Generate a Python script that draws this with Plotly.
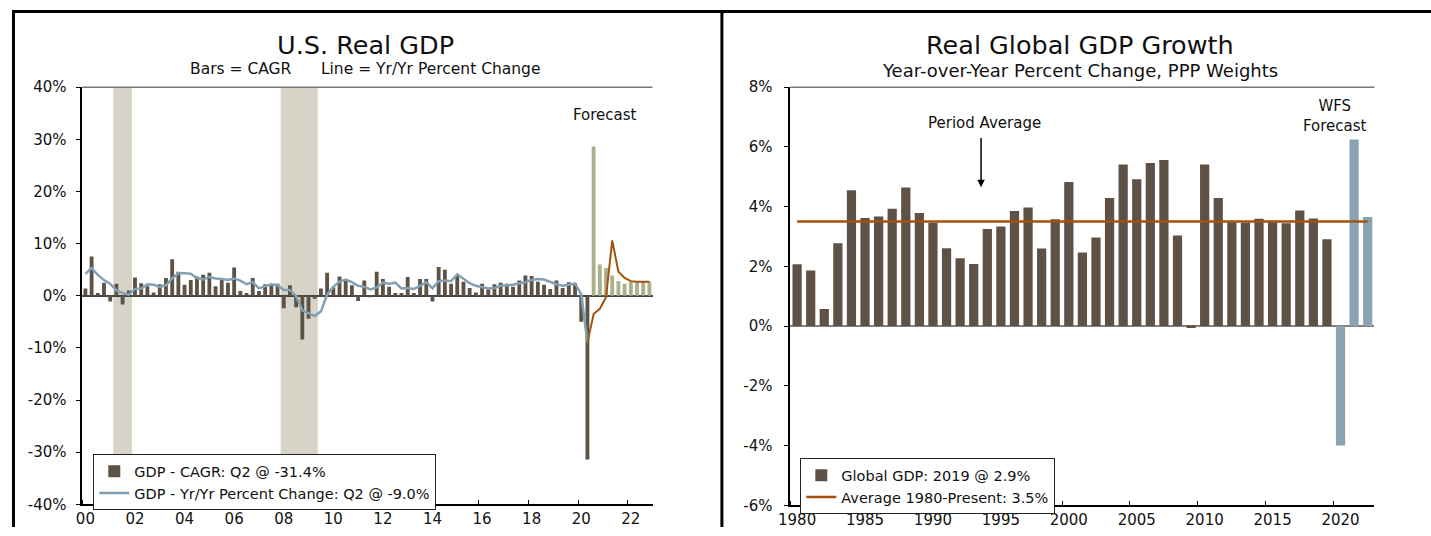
import plotly.graph_objects as go

# ---------------- Data: U.S. Real GDP (quarterly, 2000Q1 - 2022Q4) ----------------
start_year = 2000
cagr_hist = [1.4, 7.5, 0.5, 2.5,
             -1.1, 2.3, -1.7, 1.0,
             3.5, 2.4, 1.8, 0.6,
             2.2, 3.4, 7.0, 4.6,
             2.1, 3.0, 3.7, 4.0,
             4.4, 1.8, 3.4, 2.5,
             5.4, 0.9, 0.5, 3.4,
             0.9, 2.2, 2.2, 2.3,
             -2.4, 2.0, -2.2, -8.4,
             -4.4, -0.6, 1.4, 4.4,
             1.6, 3.7, 3.2, 2.0,
             -1.0, 2.9, -0.1, 4.6,
             3.2, 1.7, 0.5, 0.5,
             3.6, 0.5, 3.2, 3.2,
             -1.1, 5.5, 5.0, 2.3,
             3.8, 2.7, 1.5, 0.6,
             2.3, 1.2, 2.2, 2.5,
             2.3, 1.7, 2.9, 3.9,
             3.8, 2.7, 2.1, 1.3,
             2.9, 1.5, 2.6, 2.4,
             -5.0, -31.4]
cagr_fcst = [28.6, 6.0, 5.3, 3.9, 2.8, 2.3, 2.7, 2.7, 2.7, 2.7]

yoy_hist = [4.2, 5.3, 4.0, 3.0,
            2.3, 1.0, 0.5, 0.2,
            1.3, 1.4, 2.2, 2.1,
            1.7, 2.0, 3.3, 4.3,
            4.3, 4.2, 3.4, 3.1,
            3.6, 3.3, 3.2, 3.0,
            3.3, 2.9, 2.2, 2.6,
            1.4, 1.8, 2.2, 2.0,
            1.1, 1.1, -0.1, -2.8,
            -3.3, -3.9, -3.0, 0.2,
            1.7, 2.7, 3.1, 2.6,
            1.9, 1.7, 1.2, 1.6,
            2.5, 2.3, 2.5, 1.4,
            1.5, 1.3, 1.9, 2.6,
            1.4, 2.8, 2.9, 2.8,
            4.1, 3.3, 2.4, 1.9,
            1.6, 1.4, 1.5, 1.9,
            2.0, 2.1, 2.4, 2.6,
            3.0, 3.2, 3.1, 2.6,
            2.2, 1.9, 2.1, 2.3,
            0.3, -9.0]
yoy_fcst = [-9.0, -3.5, -2.5, -0.3, 10.6, 4.6, 3.4, 2.8, 2.7, 2.7, 2.7]

recessions = [(2001.25, 2002.0), (2008.0, 2009.5)]
us_label_years = list(range(2000, 2023, 2))
us_tick_labels = ["00", "02", "04", "06", "08", "10", "12", "14", "16", "18", "20", "22"]
us_y_ticks = [-40, -30, -20, -10, 0, 10, 20, 30, 40]

# ---------------- Data: Real Global GDP growth (annual) ----------------
global_years_hist = list(range(1980, 2020))
global_hist = [2.07, 1.86, 0.57, 2.77, 4.55, 3.62, 3.67, 3.93, 4.64, 3.79,
               3.46, 2.61, 2.27, 2.08, 3.25, 3.33, 3.85, 3.97, 2.60, 3.58,
               4.82, 2.46, 2.97, 4.29, 5.41, 4.92, 5.46, 5.56, 3.03, -0.06,
               5.41, 4.29, 3.48, 3.46, 3.59, 3.48, 3.44, 3.87, 3.60, 2.91]
global_years_fcst = [2020, 2021, 2022]
global_fcst = [-4.0, 6.25, 3.65]
period_average = 3.5
global_label_years = list(range(1980, 2021, 5))
global_y_ticks = [-6, -4, -2, 0, 2, 4, 6, 8]

# ---------------- Styles ----------------
BROWN = "#5E5247"
OLIVE = "#A9B08A"
LBLUE = "#82A0B4"
ORANGE = "#A3520F"
RECESS = "#D7D3C7"
FBLUE = "#8AA3B3"
FONT = "DejaVu Sans"

W, H = 1431, 536
# mapping from target-picture pixels to figure pixels (calibrated from the rendered output)
SX, BX = 0.993, 11.6
SY, BY = 0.966, 7.9

def fx(q):
    return (q - BX) / SX

def fy(q):
    return (q - BY) / SY

def px_x(q):
    return fx(q) / W

def px_y(q):
    return (H - fy(q)) / H

def pct_labels(vals):
    return [f"{v}%" for v in vals]

# x positions for quarters
n_hist = len(cagr_hist)
q_hist_x = [start_year + i / 4 + 0.125 for i in range(n_hist)]
q_fcst_x = [start_year + (n_hist + i) / 4 + 0.125 for i in range(len(cagr_fcst))]
yoy_fcst_x = [start_year + (n_hist - 1 + i) / 4 + 0.125 for i in range(len(yoy_fcst))]

fig = go.Figure()

# Left chart traces
fig.add_trace(go.Bar(x=q_hist_x, y=cagr_hist, marker_color=BROWN, marker_line_width=0,
                     width=0.155, name="GDP - CAGR: Q2 @ -31.4%", legend="legend",
                     xaxis="x", yaxis="y"))
fig.add_trace(go.Bar(x=q_fcst_x, y=cagr_fcst, marker_color=OLIVE, marker_line_width=0,
                     width=0.155, showlegend=False, xaxis="x", yaxis="y"))
fig.add_trace(go.Scatter(x=q_hist_x, y=yoy_hist, mode="lines",
                         line=dict(color=LBLUE, width=2.5),
                         name="GDP - Yr/Yr Percent Change: Q2 @ -9.0%", legend="legend",
                         xaxis="x", yaxis="y"))
fig.add_trace(go.Scatter(x=yoy_fcst_x, y=yoy_fcst, mode="lines",
                         line=dict(color=ORANGE, width=2),
                         showlegend=False, xaxis="x", yaxis="y"))

# Right chart traces
fig.add_trace(go.Bar(x=global_years_hist, y=global_hist, marker_color=BROWN, marker_line_width=0,
                     width=0.68, name="Global GDP: 2019 @ 2.9%", legend="legend2",
                     xaxis="x2", yaxis="y2"))
fig.add_trace(go.Bar(x=global_years_fcst, y=global_fcst, marker_color=FBLUE, marker_line_width=0,
                     width=0.68, showlegend=False, xaxis="x2", yaxis="y2"))
all_years = global_years_hist + global_years_fcst
fig.add_trace(go.Scatter(x=[all_years[0], all_years[-1]], y=[period_average, period_average],
                         mode="lines", line=dict(color=ORANGE, width=2.5),
                         name="Average 1980-Present: 3.5%", legend="legend2",
                         xaxis="x2", yaxis="y2"))

tickfont = dict(family=FONT, size=15, color="#111")

left_dom = [px_x(82), px_x(653)]
right_dom = [px_x(791), px_x(1376)]
ydom_l = [px_y(503), px_y(86)]
ydom_r = [px_y(504), px_y(86)]

def yax(rng, ticks, extra):
    d = dict(range=rng, tickmode="array", tickvals=ticks, ticktext=pct_labels(ticks),
             ticks="outside", ticklen=5, tickcolor="black", showline=True,
             linecolor="black", linewidth=1.5, showgrid=False, tickfont=tickfont)
    d.update(extra)
    return d

fig.update_layout(
    width=W, height=H,
    margin=dict(l=0, r=0, t=0, b=0),
    paper_bgcolor="white", plot_bgcolor="white",
    barmode="overlay",
    font=dict(family=FONT, size=14, color="#111"),
    xaxis=dict(domain=left_dom, anchor="y", range=[2000, 2023],
               tickmode="array", tickvals=[y + 0.125 for y in us_label_years],
               ticktext=us_tick_labels, ticks="", showgrid=False, zeroline=False,
               showline=True, linecolor="black", linewidth=1.5, tickfont=tickfont,
               ticklabelstandoff=0,
               minor=dict(tickmode="array", tickvals=us_label_years, ticks="inside",
                          ticklen=5, tickcolor="black", tickwidth=1, showgrid=False)),
    yaxis=yax([-40, 40], us_y_ticks,
              dict(domain=ydom_l, anchor="x", zeroline=True, zerolinecolor="#444",
                   zerolinewidth=1.5, ticklabelstandoff=6)),
    yaxis3=yax([-40, 40], us_y_ticks,
               dict(overlaying="y", side="right", anchor="x", zeroline=False,
                    ticklabelstandoff=6)),
    xaxis2=dict(domain=right_dom, anchor="y2", range=[1979.5, 2022.5],
                tickmode="array", tickvals=global_label_years,
                ticktext=[str(y) for y in global_label_years], ticks="",
                showgrid=False, zeroline=False, showline=True, linecolor="black",
                linewidth=1.5, tickfont=tickfont, ticklabelstandoff=0,
                minor=dict(tickmode="array", tickvals=[y - 0.5 for y in global_label_years],
                           ticks="inside", ticklen=5, tickcolor="black", tickwidth=1,
                           showgrid=False)),
    yaxis2=yax([-6, 8], global_y_ticks,
               dict(domain=ydom_r, anchor="x2", zeroline=True, zerolinecolor="#808080",
                    zerolinewidth=2, ticklabelstandoff=8)),
    yaxis4=yax([-6, 8], global_y_ticks,
               dict(overlaying="y2", side="right", anchor="x2", zeroline=False,
                    ticklabelstandoff=8)),
    legend=dict(x=px_x(93), y=px_y(453), xanchor="left", yanchor="top",
                bgcolor="white", bordercolor="#222", borderwidth=1,
                font=dict(family=FONT, size=14.5, color="#111"), tracegroupgap=0,
                itemwidth=30),
    legend2=dict(x=px_x(801), y=px_y(457), xanchor="left", yanchor="top",
                 bgcolor="white", bordercolor="#222", borderwidth=1,
                 font=dict(family=FONT, size=14.5, color="#111"), tracegroupgap=0,
                 itemwidth=30),
    showlegend=True,
)

shapes = []
for (a, b) in recessions:
    shapes.append(dict(type="rect", xref="x", yref="y domain", x0=a, x1=b, y0=0, y1=1,
                       fillcolor=RECESS, line=dict(width=0), layer="below"))
# plot-area top border lines
shapes.append(dict(type="line", xref="x domain", yref="y domain", x0=0, x1=1, y0=1, y1=1,
                   line=dict(color="#777", width=1.5)))
shapes.append(dict(type="line", xref="x2 domain", yref="y2 domain", x0=0, x1=1, y0=1, y1=1,
                   line=dict(color="#777", width=1.5)))
# panel frame lines
left_edge = BX + SX * 1.5
shapes.append(dict(type="line", xref="paper", yref="paper", x0=0, x1=1,
                   y0=px_y(10.5), y1=px_y(10.5), line=dict(color="black", width=3)))
shapes.append(dict(type="line", xref="paper", yref="paper", x0=px_x(left_edge), x1=px_x(left_edge),
                   y0=0, y1=px_y(10.5), line=dict(color="black", width=3)))
shapes.append(dict(type="line", xref="paper", yref="paper", x0=px_x(722.5), x1=px_x(722.5),
                   y0=0, y1=px_y(10.5), line=dict(color="black", width=3)))
fig.update_layout(shapes=shapes)

ann = []
def text_ann(x, y, text, size, xa="center"):
    ann.append(dict(x=px_x(x), y=px_y(y), xref="paper", yref="paper", text=text,
                    showarrow=False, xanchor=xa, yanchor="middle",
                    font=dict(family=FONT, size=size, color="#111")))

text_ann(366, 44, "U.S. Real GDP", 25.5)
text_ann(365, 68, "Bars = CAGR" + "\u00a0" * 6 + "Line = Yr/Yr Percent Change", 15.5)
text_ann(1081, 44, "Real Global GDP Growth", 25.5)
text_ann(1081, 69, "Year-over-Year Percent Change, PPP Weights", 18)
text_ann(605, 114, "Forecast", 15)
text_ann(985, 122, "Period Average", 15)
text_ann(1336, 115, "WFS<br>Forecast", 15)
# arrow for Period Average
ann.append(dict(x=px_x(982), y=px_y(186), xref="paper", yref="paper", text="",
                showarrow=True, arrowhead=2, arrowsize=1, arrowwidth=1.5,
                arrowcolor="black", ax=0, ay=-49 / SY))
fig.update_layout(annotations=ann)

fig.write_html(
    "out.html",
    config={"displayModeBar": False},
    post_script=("document.documentElement.style.margin='0px';"
                 "document.body.style.margin='0px';"
                 "document.body.style.padding='0px';"
                 "document.body.style.overflow='hidden';"),
)
